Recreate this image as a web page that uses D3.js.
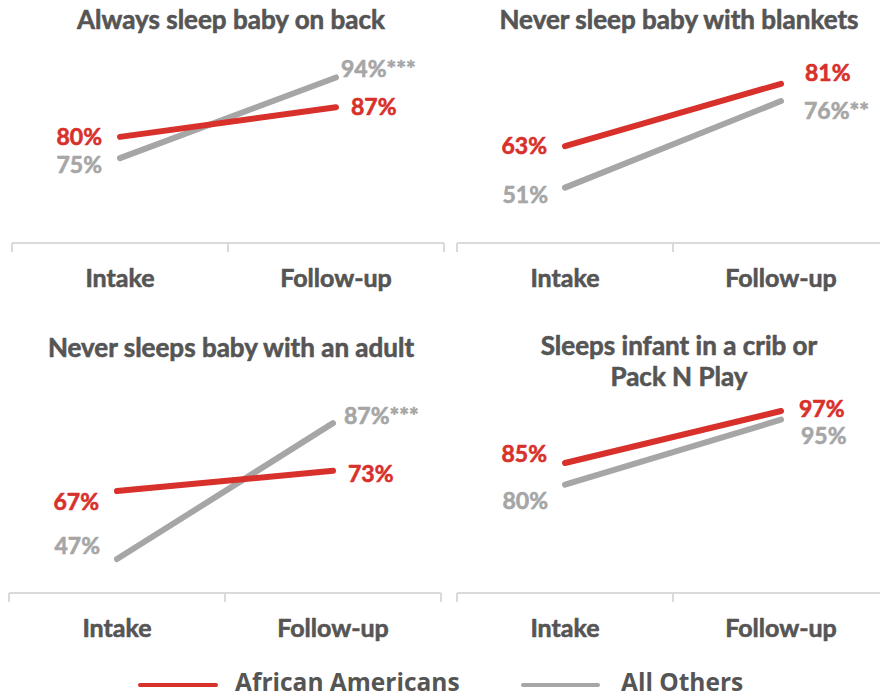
<!DOCTYPE html>
<html>
<head>
<meta charset="utf-8">
<script src="https://cdn.jsdelivr.net/npm/d3@7"></script>
<style>
  html, body { margin: 0; padding: 0; background: #fff; }
  svg { display: block; }
  text { font-family: Lato, "Noto Sans", sans-serif; font-weight: 700; }
</style>
</head>
<body>
<div id="chart"></div>
<script>
// Safe-sleep practices, intake vs follow-up, by group
const panelTitles = [
  ["Always sleep baby on back"],
  ["Never sleep baby with blankets"],
  ["Never sleeps baby with an adult"],
  ["Sleeps infant in a crib or", "Pack N Play"]
];
const timepoints = ["Intake", "Follow-up"];
const seriesNames = ["African Americans", "All Others"];
const africanAmericans = [[80, 87], [63, 81], [67, 73], [85, 97]];
const allOthers = [[75, 94], [51, 76], [47, 87], [80, 95]];
// significance marks on the All Others follow-up value
const significance = ["***", "**", "***", ""];
// lower bound of each panel's value axis
const yFloor = [55, 35, 37, 55];

const W = 880, H = 698;
const COLORS = ["#d8302a", "#a6a6a6"];
const INK = "#555555";

// panel geometry: left edge of axis, axis baseline, y of the value 100, title baseline
const layout = [
  { x0: 12,  axisY: 243, top: 52,  titleX: 231, titleY: 29 },
  { x0: 457, axisY: 243, top: 18,  titleX: 679, titleY: 29 },
  { x0: 9,   axisY: 593, top: 379, titleX: 231, titleY: 357 },
  { x0: 457, axisY: 593, top: 398, titleX: 679, titleY: 355 }
];
const bandWidth = 216;
const titleLineHeight = 31;

// label placement: [series][side] -> [dx, dy] relative to the line end
const labelNudge = [
  [[[-18, 0], [15, 0]],  [[-18, 7], [5, -9]]],
  [[[-18, 0], [24, -11]], [[-17, 7], [23, 10]]],
  [[[-18, 11], [15, 3]], [[-17, -13], [11, -7]]],
  [[[-18, -9], [18, -2]], [[-17, 16], [20, 16]]]
];

// bolden text slightly with a matching outline
function heavy(sel, color, w) {
  return sel.attr("stroke", color).attr("stroke-width", w).attr("stroke-linejoin", "round");
}

const svg = d3.select("#chart").append("svg")
  .attr("width", W).attr("height", H);

panelTitles.forEach((title, i) => {
  const L = layout[i];
  const g = svg.append("g");

  const x = d3.scaleBand().domain(timepoints)
    .range([L.x0, L.x0 + bandWidth * timepoints.length]).padding(0);
  const y = d3.scaleLinear().domain([yFloor[i], 100]).range([L.axisY, L.top]);
  const cx = d => x(d) + x.bandwidth() / 2;

  // title, one text element per line
  title.forEach((line, k) => {
    const t = g.append("text")
      .attr("x", L.titleX).attr("y", L.titleY + k * titleLineHeight)
      .attr("text-anchor", "middle")
      .attr("fill", INK).style("font-size", "26px")
      .text(line);
    heavy(t, INK, 0.6);
  });

  // baseline axis with band-edge ticks
  g.append("line")
    .attr("x1", x.range()[0]).attr("x2", x.range()[1])
    .attr("y1", L.axisY).attr("y2", L.axisY)
    .attr("stroke", "#dadada").attr("stroke-width", 2);
  const edges = timepoints.map(d => x(d)).concat([x.range()[1]]);
  g.selectAll(".tick").data(edges).join("line")
    .attr("x1", d => d).attr("x2", d => d)
    .attr("y1", L.axisY).attr("y2", L.axisY + 9)
    .attr("stroke", "#dadada").attr("stroke-width", 2);

  // category labels
  const cats = g.selectAll(".cat").data(timepoints).join("text")
    .attr("x", d => cx(d)).attr("y", L.axisY + 44)
    .attr("text-anchor", "middle")
    .attr("fill", INK).style("font-size", "25px")
    .text(d => d);
  heavy(cats, INK, 0.6);

  // lines: grey drawn first, red on top
  const series = [africanAmericans[i], allOthers[i]];
  const line = d3.line().x((d, k) => cx(timepoints[k])).y(d => y(d));
  [1, 0].forEach(s => {
    g.append("path")
      .attr("d", line(series[s]))
      .attr("fill", "none")
      .attr("stroke", COLORS[s])
      .attr("stroke-width", 6)
      .attr("stroke-linecap", "round");
  });

  // value labels
  [0, 1].forEach(s => {
    series[s].forEach((v, k) => {
      const [dx, dy] = labelNudge[i][s][k];
      const txt = g.append("text")
        .attr("x", cx(timepoints[k]) + dx)
        .attr("y", y(v) + dy)
        .attr("dy", "0.36em")
        .attr("text-anchor", k === 0 ? "end" : "start")
        .attr("fill", COLORS[s])
        .style("font-size", "23px");
      heavy(txt, COLORS[s], 0.6);
      txt.append("tspan").text(v + "%");
      if (s === 1 && k === 1 && significance[i]) {
        txt.append("tspan").text(significance[i]);
      }
    });
  });
});

// legend
const legendItems = [
  { name: seriesNames[0], color: COLORS[0], x1: 140, x2: 216, tx: 235 },
  { name: seriesNames[1], color: COLORS[1], x1: 523, x2: 598, tx: 621 }
];
const lg = svg.append("g");
legendItems.forEach(it => {
  lg.append("line")
    .attr("x1", it.x1).attr("x2", it.x2)
    .attr("y1", 685).attr("y2", 685)
    .attr("stroke", it.color).attr("stroke-width", 4)
    .attr("stroke-linecap", "round");
  lg.append("text")
    .attr("x", it.tx).attr("y", 691)
    .attr("fill", INK)
    .style("font-family", "'Open Sans', sans-serif")
    .style("font-weight", 700)
    .style("font-size", "24.5px")
    .text(it.name);
});
</script>
</body>
</html>
